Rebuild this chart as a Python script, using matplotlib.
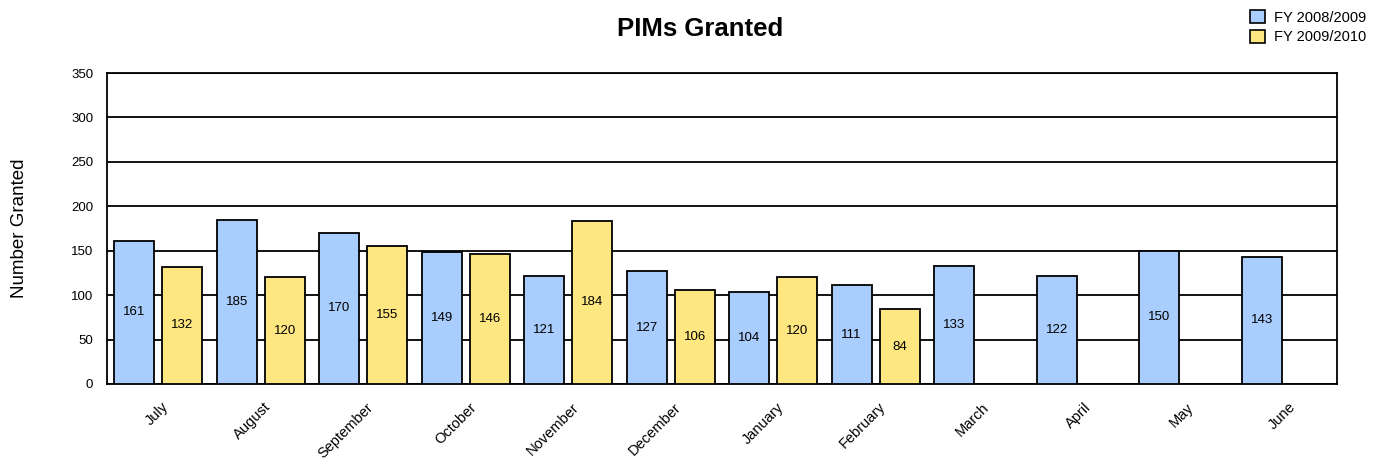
import numpy as np
import matplotlib.pyplot as plt
import matplotlib.transforms as mtransforms
from matplotlib.patches import Patch

plt.rcParams['font.family'] = ['Liberation Sans', 'DejaVu Sans']

# Données mensuelles
months = ["July", "August", "September", "October", "November", "December",
          "January", "February", "March", "April", "May", "June"]
fy_2008 = [161, 185, 170, 149, 121, 127, 104, 111, 133, 122, 150, 143]
fy_2009 = [132, 120, 155, 146, 184, 106, 120, 84]
series_names = ["FY 2008/2009", "FY 2009/2010"]
colors = ["#a9cdfd", "#fee680"]

fig = plt.figure(figsize=(13.79, 4.65), dpi=100)
ax = fig.add_axes([0.0776, 0.1742, 0.8919, 0.6688])

x = np.arange(len(months))
w = 0.39
off = 0.235

b1 = ax.bar(x - off, fy_2008, w, color=colors[0], edgecolor="black", linewidth=1.3, zorder=3)
b2 = ax.bar(x[:len(fy_2009)] + off, fy_2009, w, color=colors[1], edgecolor="black", linewidth=1.3, zorder=3)

# Valeurs au milieu des barres
for bars, vals in [(b1, fy_2008), (b2, fy_2009)]:
    for b, v in zip(bars, vals):
        ax.text(b.get_x() + b.get_width() / 2, v / 2, str(v), ha="center", va="center",
                fontsize=9.5, zorder=4)

ax.set_xlim(-0.5, len(months) - 0.5)
ax.set_ylim(0, 350)
ax.set_yticks(range(0, 351, 50))
ax.yaxis.grid(True, color="black", linewidth=1.3, zorder=0)
ax.set_axisbelow(True)
for s in ax.spines.values():
    s.set_linewidth(1.3)

# Étiquettes des mois, inclinées à 45°
ax.set_xticks(x)
ax.set_xticklabels([])
lab_tr = ax.get_xaxis_transform() + mtransforms.ScaledTranslation(
    13 / 100, -16 / 100, fig.dpi_scale_trans)
for xi, m in zip(x, months):
    ax.text(xi, 0, m, rotation=45, ha="right", va="top", fontsize=10.5,
            transform=lab_tr)
ax.tick_params(axis="both", length=0, pad=10, labelsize=9.5)

ax.set_ylabel("Number Granted", fontsize=13.5, labelpad=31)
fig.text(0.508, 0.938, "PIMs Granted", ha="center", va="center", fontsize=18.5, fontweight="bold")

handles = [Patch(facecolor=c, edgecolor="black", linewidth=1.2) for c in colors]
fig.legend(handles, series_names, loc="upper right", bbox_to_anchor=(1366 / 1379, 1 - 10 / 465),
           frameon=False, fontsize=10.5, handlelength=1.0, handleheight=1.0,
           handletextpad=0.6, labelspacing=0.37, borderpad=0, borderaxespad=0)

fig.savefig("out.png", dpi=100)
